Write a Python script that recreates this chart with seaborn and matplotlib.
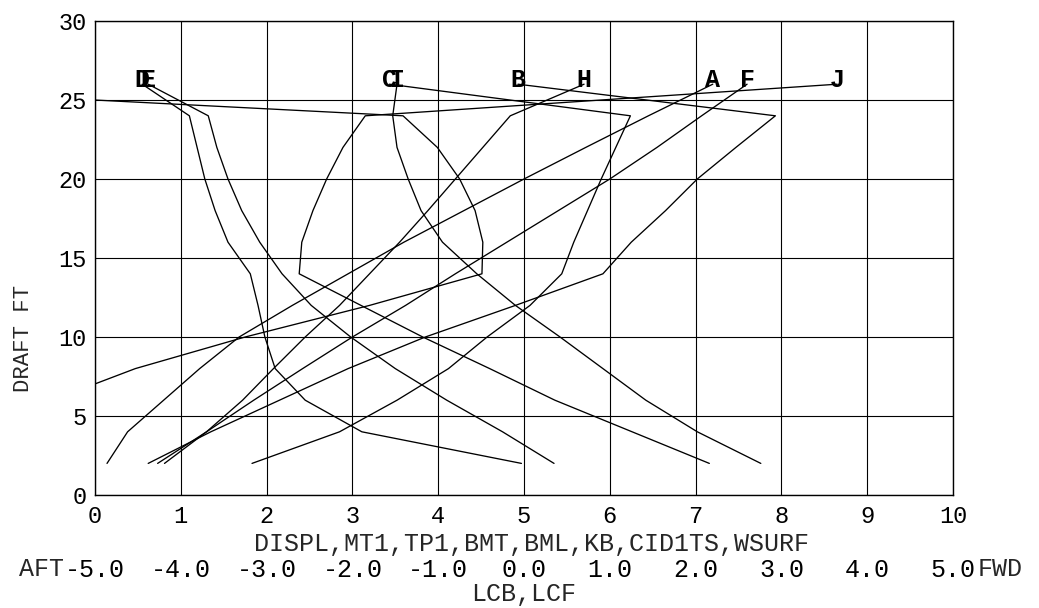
import matplotlib
matplotlib.use("Agg")
import matplotlib.pyplot as plt
import matplotlib.ticker as mticker
import numpy as np
import pandas as pd
import seaborn as sns

# Hydrostatic curves: value on the common 0-10 scale against draft (ft)
drafts = [2, 4, 6, 8, 10, 12, 14, 16, 18, 20, 22, 24]

curve_A = [0.14, 0.38, 0.80, 1.22, 1.68, 2.30, 2.95, 3.60, 4.30, 5.00, 5.72, 6.45]
curve_B = [0.62, 1.35, 2.15, 2.95, 3.85, 4.90, 5.92, 6.25, 6.65, 7.02, 7.47, 7.93]
curve_C = [1.83, 2.85, 3.52, 4.12, 4.57, 5.07, 5.44, 5.58, 5.74, 5.90, 6.07, 6.24]
curve_D = [4.97, 3.11, 2.45, 2.10, 1.98, 1.90, 1.81, 1.55, 1.40, 1.28, 1.19, 1.10]
curve_E = [5.35, 4.75, 4.10, 3.50, 2.98, 2.52, 2.18, 1.92, 1.71, 1.55, 1.42, 1.32]
curve_F = [0.73, 1.30, 1.85, 2.42, 3.00, 3.62, 4.20, 4.80, 5.40, 6.00, 6.55, 7.07]
drafts_G = [6, 8, 10, 12, 14, 16, 18, 20, 22, 24]
curve_G = [-0.50, 0.47, 1.75, 3.20, 4.51, 4.52, 4.43, 4.25, 3.99, 3.59]
curve_H = [0.81, 1.30, 1.72, 2.08, 2.45, 2.85, 3.20, 3.55, 3.88, 4.20, 4.52, 4.84]
curve_I = [7.76, 7.02, 6.42, 5.92, 5.42, 4.90, 4.45, 4.05, 3.80, 3.65, 3.52, 3.47]
curve_J = [7.16, 6.26, 5.36, 4.60, 3.82, 3.10, 2.38, 2.41, 2.54, 2.70, 2.89, 3.15]

# Curve letters sit at draft 26, each joined to the top point of its curve
label_draft = 26
label_names = ["A", "B", "C", "D", "E", "F", "G", "H", "I", "J"]
label_x = [7.20, 4.93, 3.43, 0.55, 0.62, 7.60, -3.60, 5.70, 3.52, 8.65]

x_ticks = list(range(0, 11))
y_ticks = list(range(0, 31, 5))
lcb_ticks = [-5.0, -4.0, -3.0, -2.0, -1.0, 0.0, 1.0, 2.0, 3.0, 4.0, 5.0]

series = {
    "A": (drafts, curve_A), "B": (drafts, curve_B), "C": (drafts, curve_C),
    "D": (drafts, curve_D), "E": (drafts, curve_E), "F": (drafts, curve_F),
    "G": (drafts_G, curve_G), "H": (drafts, curve_H), "I": (drafts, curve_I),
    "J": (drafts, curve_J),
}

rows = []
for name, lx in zip(label_names, label_x):
    dr, vals = series[name]
    for d, v in zip(dr, vals):
        rows.append({"curve": name, "draft": d, "value": v})
    rows.append({"curve": name, "draft": label_draft, "value": lx})
df = pd.DataFrame(rows)

sns.set_style("white")
plt.rcParams["font.family"] = ["Liberation Mono", "DejaVu Sans Mono"]

W, H = 1039, 608
fig = plt.figure(figsize=(W / 100, H / 100), dpi=100)
ax = fig.add_axes([95 / W, (H - 495) / H, 858 / W, 474 / H])

sns.lineplot(data=df, x="value", y="draft", units="curve", estimator=None,
             sort=False, color="black", linewidth=0.95, legend=False, ax=ax)

x_min, x_max = 0, 10
for name, lx in zip(label_names, label_x):
    # letters whose position falls outside the scale are not printed
    if x_min <= lx <= x_max:
        ax.text(lx, label_draft - 0.2, name, ha="center", va="baseline",
                fontsize=18, fontweight="bold", color="black")

ax.set_xlim(x_min, x_max)
ax.set_ylim(0, 30)
ax.set_xticks(x_ticks)
ax.set_yticks(y_ticks)
ax.grid(True, color="black", linewidth=0.8)
for sp in ax.spines.values():
    sp.set_color("black")
    sp.set_linewidth(1.0)
ax.tick_params(axis="both", length=0, labelsize=17, colors="black")
ax.tick_params(axis="x", pad=7)
ax.tick_params(axis="y", pad=6)

ax.set_xlabel("DISPL,MT1,TP1,BMT,BML,KB,CID1TS,WSURF", fontsize=18)
ax.xaxis.set_label_coords((532 - 95) / 858, (495 - 544) / 474)
ax.xaxis.label.set_va("center")
ax.set_ylabel("DRAFT FT", fontsize=16)
ax.yaxis.set_label_coords((24 - 95) / 858, (495 - 338) / 474)
ax.yaxis.label.set_va("center")

# Second scale for LCB / LCF, measured from midship
sec = ax.secondary_xaxis((495 - 555) / 474,
                         functions=(lambda x: x - 5, lambda x: x + 5))
sec.set_xticks(lcb_ticks)
sec.xaxis.set_major_formatter(mticker.FormatStrFormatter("%.1f"))
sec.tick_params(length=0, labelsize=18, pad=2, colors="black")
sec.spines["bottom"].set_visible(False)
sec.set_xlabel("LCB,LCF", fontsize=18, labelpad=0)

fig.text(64 / W, 1 - 569 / H, "AFT", ha="right", va="center", fontsize=18)
fig.text(978 / W, 1 - 569 / H, "FWD", ha="left", va="center", fontsize=18)

fig.savefig("out.png", dpi=100, facecolor="white")
